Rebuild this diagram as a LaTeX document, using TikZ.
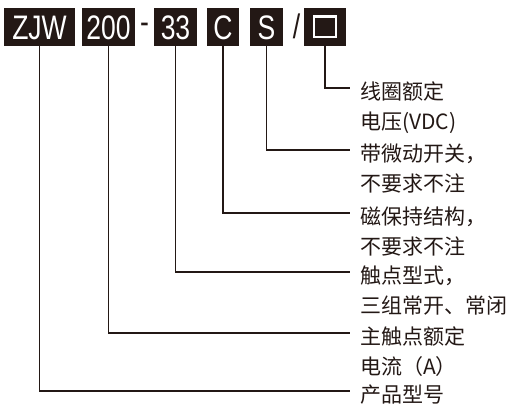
\documentclass[tikz,border=0pt]{standalone}
\usepackage{fontspec}
\setmainfont{Liberation Sans}
\newfontfamily\cjkfont{Noto Sans CJK SC}
\newfontfamily\codefont[FakeStretch=0.78]{Liberation Sans}
\usetikzlibrary{positioning}
\definecolor{inkbrown}{RGB}{35,24,21}
\tikzset{
    codebox/.style={fill=inkbrown, text=white, inner sep=0pt, minimum height=38pt,
        text height=24.3pt, text depth=0pt, font=\codefont\fontsize{34}{34}\selectfont}, % black code boxes
    sign/.style={text=inkbrown, inner sep=0pt, font=\codefont\fontsize{34}{34}\selectfont}, % - and / between boxes
    lbl/.style={anchor=north west, align=left, inner sep=0pt, text=inkbrown,
        font=\cjkfont\fontsize{21}{30.5}\selectfont}, % explanation texts
    lead/.style={draw=inkbrown, line width=1.3pt}, % leader lines
}

\begin{document}
\begin{tikzpicture}[x=1pt, y=-1pt]
    \useasboundingbox (0,0) rectangle (521,411);
    \node[codebox, minimum width=71pt] (series) at (39.5,27) {ZJW};
    \node[codebox, minimum width=53pt] (current) at (108.5,27) {200};
    \node[sign] (dash) at (144.5,28.8) {-};
    \node[codebox, minimum width=43pt] (contact) at (175.5,27) {33};
    \node[codebox, minimum width=32pt] (latch) at (223,27) {C};
    \node[codebox, minimum width=33pt] (micro) at (266.5,27) {S};
    \node[sign] (slash) at (296.5,26) {/};
    \node[codebox, minimum width=42pt] (coil) at (325,27) {};
    \node[draw=white, line width=2.4pt, minimum width=21.6pt, minimum height=20.6pt, inner sep=0pt] (coilmark) at (coil) {};

    \node[lbl] (coilLbl) at (360,81.5) {线圈额定\\电压(VDC)};
    \node[lbl] (microLbl) at (360,143.5) {带微动开关，\\不要求不注};
    \node[lbl] (latchLbl) at (360,206.5) {磁保持结构，\\不要求不注};
    \node[lbl] (contactLbl) at (360,265.5) {触点型式，\\三组常开、常闭};
    \node[lbl] (currentLbl) at (360,326.5) {主触点额定\\电流（A）};
    \node[lbl] (seriesLbl) at (360,384.5) {产品型号};

    \draw[lead] (coil.south) |- ([xshift=-10pt,yshift=-6.5pt]coilLbl.north west);
    \draw[lead] (micro.south) |- ([xshift=-10pt,yshift=-6.5pt]microLbl.north west);
    \draw[lead] (latch.south) |- ([xshift=-10pt,yshift=-6.5pt]latchLbl.north west);
    \draw[lead] (contact.south) |- ([xshift=-10pt,yshift=-6.5pt]contactLbl.north west);
    \draw[lead] (current.south) |- ([xshift=-10pt,yshift=-6.5pt]currentLbl.north west);
    \draw[lead] (series.south) |- ([xshift=-10pt,yshift=-6.5pt]seriesLbl.north west);
\end{tikzpicture}
\end{document}
